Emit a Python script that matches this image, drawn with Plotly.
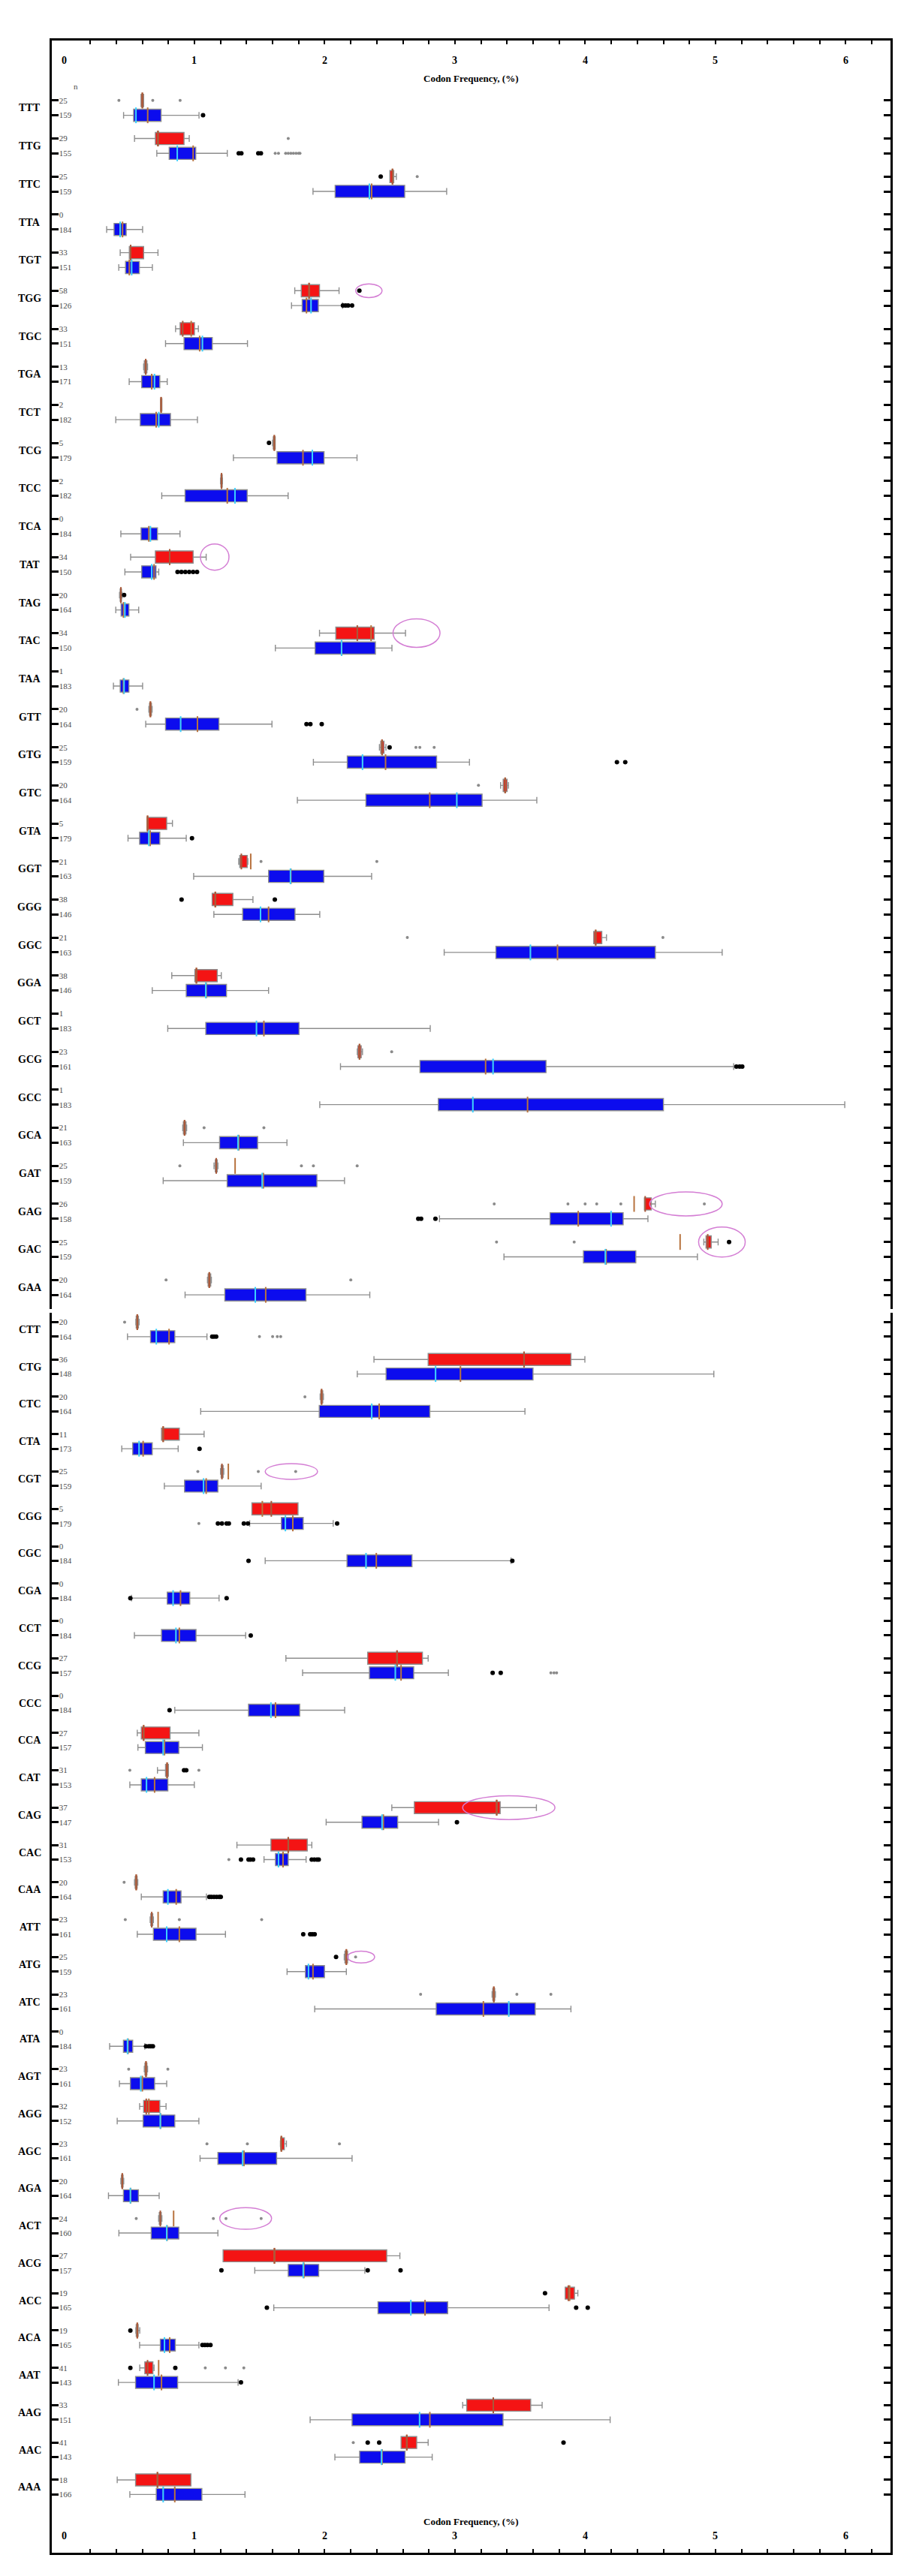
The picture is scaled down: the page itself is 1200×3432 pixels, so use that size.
import plotly.graph_objects as go

codons_top = ["TTT", "TTG", "TTC", "TTA", "TGT", "TGG", "TGC", "TGA", "TCT", "TCG", "TCC", "TCA",
              "TAT", "TAG", "TAC", "TAA", "GTT", "GTG", "GTC", "GTA", "GGT", "GGG", "GGC", "GGA",
              "GCT", "GCG", "GCC", "GCA", "GAT", "GAG", "GAC", "GAA"]
codons_bottom = ["CTT", "CTG", "CTC", "CTA", "CGT", "CGG", "CGC", "CGA", "CCT", "CCG", "CCC", "CCA",
                 "CAT", "CAG", "CAC", "CAA", "ATT", "ATG", "ATC", "ATA", "AGT", "AGG", "AGC", "AGA",
                 "ACT", "ACG", "ACC", "ACA", "AAT", "AAG", "AAC", "AAA"]

n_red_top = [25, 29, 25, 0, 33, 58, 33, 13, 2, 5, 2, 0, 34, 20, 34, 1,
             20, 25, 20, 5, 21, 38, 21, 38, 1, 23, 1, 21, 25, 26, 25, 20]
n_blue_top = [159, 155, 159, 184, 151, 126, 151, 171, 182, 179, 182, 184, 150, 164, 150, 183,
              164, 159, 164, 179, 163, 146, 163, 146, 183, 161, 183, 163, 159, 158, 159, 164]
n_red_bottom = [20, 36, 20, 11, 25, 5, 0, 0, 0, 27, 0, 27, 31, 37, 31, 20,
                23, 25, 23, 0, 23, 32, 23, 20, 24, 27, 19, 19, 41, 33, 41, 18]
n_blue_bottom = [164, 148, 164, 173, 159, 179, 184, 184, 184, 157, 184, 157, 153, 147, 153, 164,
                 161, 159, 161, 184, 161, 152, 161, 164, 160, 157, 165, 165, 143, 151, 143, 166]

x_ticks = [0, 1, 2, 3, 4, 5, 6]

# (lower whisker, q1, median, q3, upper whisker, mean)
red_stats = {
    "TTT": (0.59, 0.59, 0.60, 0.61, 0.61, 0.60),
    "TTG": (0.54, 0.70, 0.72, 0.92, 0.96, 0.72),
    "TTC": (2.50, 2.50, 2.52, 2.53, 2.55, 2.52),
    "TGT": (0.43, 0.50, 0.51, 0.61, 0.72, 0.51),
    "TGG": (1.77, 1.82, 1.88, 1.96, 2.11, 1.88),
    "TGC": (0.855, 0.89, 0.91, 1.00, 1.03, 0.975),
    "TGA": (0.61, 0.615, 0.626, 0.635, 0.64, 0.626),
    "TCT": (0.74, 0.74, 0.744, 0.75, 0.75, 0.744),
    "TCG": (1.60, 1.605, 1.613, 1.62, 1.62, 1.613),
    "TCC": (1.20, 1.203, 1.208, 1.213, 1.215, 1.208),
    "TAT": (0.51, 0.70, 0.81, 0.99, 1.09, 0.81),
    "TAG": (0.425, 0.43, 0.435, 0.44, 0.445, 0.435),
    "TAC": (1.96, 2.085, 2.25, 2.38, 2.62, 2.356),
    "GTT": (0.65, 0.655, 0.662, 0.67, 0.675, 0.662),
    "GTG": (2.42, 2.43, 2.44, 2.455, 2.47, 2.44),
    "GTC": (3.35, 3.37, 3.385, 3.40, 3.41, 3.385),
    "GTA": (0.636, 0.636, 0.64, 0.787, 0.831, 0.64),
    "GGT": (1.34, 1.348, 1.36, 1.405, 1.41, 1.432),
    "GGG": (1.136, 1.136, 1.16, 1.295, 1.449, 1.16),
    "GGC": (4.065, 4.065, 4.08, 4.127, 4.163, 4.08),
    "GGA": (0.826, 1.003, 1.015, 1.175, 1.206, 1.015),
    "GCG": (2.25, 2.255, 2.267, 2.28, 2.29, 2.267),
    "GCA": (0.91, 0.915, 0.924, 0.935, 0.94, 0.924),
    "GAT": (1.15, 1.16, 1.167, 1.175, 1.18, 1.312),
    "GAG": (4.454, 4.454, 4.46, 4.507, 4.538, 4.375),
    "GAC": (4.91, 4.927, 4.94, 4.967, 5.02, 4.728),
    "GAA": (1.10, 1.105, 1.114, 1.125, 1.13, 1.114),
    "CTT": (0.55, 0.553, 0.561, 0.57, 0.575, 0.561),
    "CTG": (2.378, 2.794, 3.53, 3.89, 3.997, 3.53),
    "CTC": (1.965, 1.97, 1.976, 1.985, 1.99, 1.976),
    "CTA": (0.747, 0.747, 0.76, 0.884, 1.074, 0.76),
    "CGT": (1.20, 1.205, 1.211, 1.22, 1.225, 1.26),
    "CGG": (1.441, 1.441, 1.59, 1.795, 1.795, 1.521),
    "CCG": (1.702, 2.33, 2.555, 2.75, 2.794, 2.555),
    "CCA": (0.561, 0.592, 0.61, 0.813, 1.034, 0.61),
    "CAT": (0.716, 0.778, 0.79, 0.80, 0.80, 0.79),
    "CAG": (2.515, 2.688, 3.32, 3.347, 3.625, 3.32),
    "CAC": (1.326, 1.587, 1.72, 1.866, 1.901, 1.72),
    "CAA": (0.54, 0.545, 0.553, 0.56, 0.565, 0.553),
    "ATT": (0.66, 0.665, 0.672, 0.68, 0.685, 0.721),
    "ATG": (2.15, 2.155, 2.166, 2.175, 2.18, 2.166),
    "ATC": (3.285, 3.29, 3.298, 3.305, 3.31, 3.298),
    "AGT": (0.615, 0.62, 0.628, 0.635, 0.64, 0.628),
    "AGG": (0.579, 0.61, 0.63, 0.734, 0.782, 0.65),
    "AGC": (1.66, 1.662, 1.667, 1.69, 1.706, 1.667),
    "AGA": (0.435, 0.44, 0.446, 0.452, 0.457, 0.446),
    "ACT": (0.725, 0.73, 0.738, 0.745, 0.75, 0.84),
    "ACG": (1.22, 1.22, 1.614, 2.476, 2.577, 1.614),
    "ACC": (3.846, 3.846, 3.87, 3.917, 3.943, 3.88),
    "ACA": (0.55, 0.553, 0.561, 0.568, 0.58, 0.561),
    "AAT": (0.58, 0.619, 0.64, 0.681, 0.69, 0.725),
    "AAG": (3.059, 3.09, 3.294, 3.581, 3.669, 3.294),
    "AAC": (2.586, 2.586, 2.63, 2.706, 2.794, 2.63),
    "AAA": (0.407, 0.548, 0.716, 0.973, 0.973, 0.716),
}

blue_stats = {
    "TTT": (0.456, 0.533, 0.551, 0.744, 1.035, 0.641),
    "TTG": (0.711, 0.806, 0.868, 1.010, 1.252, 0.99),
    "TTC": (1.91, 2.08, 2.343, 2.614, 2.936, 2.36),
    "TTA": (0.326, 0.383, 0.43, 0.476, 0.602, 0.448),
    "TGT": (0.419, 0.471, 0.518, 0.577, 0.677, 0.50),
    "TGG": (1.745, 1.827, 1.895, 1.951, 2.137, 1.86),
    "TGC": (0.778, 0.92, 1.061, 1.137, 1.407, 1.04),
    "TGA": (0.499, 0.595, 0.693, 0.734, 0.791, 0.672),
    "TCT": (0.396, 0.584, 0.726, 0.816, 1.023, 0.706),
    "TCG": (1.299, 1.634, 1.905, 1.995, 2.248, 1.833),
    "TCC": (0.749, 0.928, 1.311, 1.405, 1.719, 1.252),
    "TCA": (0.435, 0.59, 0.662, 0.716, 0.889, 0.65),
    "TAT": (0.466, 0.595, 0.672, 0.705, 0.726, 0.69),
    "TAG": (0.396, 0.437, 0.466, 0.497, 0.572, 0.455),
    "TAC": (1.621, 1.926, 2.129, 2.389, 2.516, 2.13),
    "TAA": (0.378, 0.43, 0.46, 0.497, 0.602, 0.455),
    "GTT": (0.626, 0.778, 0.894, 1.188, 1.595, 1.023),
    "GTG": (1.913, 2.173, 2.29, 2.859, 3.111, 2.467),
    "GTC": (1.79, 2.316, 3.014, 3.208, 3.628, 2.806),
    "GTA": (0.49, 0.579, 0.65, 0.734, 0.937, 0.66),
    "GGT": (0.994, 1.569, 1.737, 1.993, 2.36, 1.74),
    "GGG": (1.149, 1.37, 1.507, 1.772, 1.962, 1.569),
    "GGC": (2.917, 3.314, 3.579, 4.538, 5.051, 3.787),
    "GGA": (0.676, 0.937, 1.087, 1.246, 1.569, 1.09),
    "GCT": (0.795, 1.087, 1.476, 1.803, 2.81, 1.533),
    "GCG": (2.121, 2.731, 3.292, 3.699, 5.139, 3.235),
    "GCC": (1.962, 2.872, 3.137, 4.60, 5.992, 3.557),
    "GCA": (0.915, 1.193, 1.334, 1.485, 1.71, 1.34),
    "GAT": (0.76, 1.251, 1.52, 1.94, 2.152, 1.529),
    "GAG": (2.881, 3.73, 4.198, 4.291, 4.481, 3.946),
    "GAC": (3.376, 3.986, 4.154, 4.388, 4.861, 4.16),
    "GAA": (0.928, 1.233, 1.467, 1.856, 2.346, 1.547),
    "CTT": (0.486, 0.663, 0.707, 0.849, 1.096, 0.805),
    "CTG": (2.25, 2.471, 2.851, 3.599, 4.987, 3.042),
    "CTC": (1.048, 1.958, 2.361, 2.807, 3.537, 2.418),
    "CTA": (0.442, 0.526, 0.575, 0.676, 0.875, 0.606),
    "CGT": (0.769, 0.924, 1.07, 1.18, 1.512, 1.09),
    "CGG": (1.424, 1.667, 1.698, 1.835, 2.065, 1.755),
    "CGC": (1.543, 2.171, 2.317, 2.67, 3.43, 2.396),
    "CGA": (0.517, 0.791, 0.836, 0.964, 1.189, 0.893),
    "CCT": (0.539, 0.747, 0.858, 1.012, 1.393, 0.884),
    "CCG": (1.83, 2.343, 2.542, 2.683, 2.949, 2.586),
    "CCC": (0.849, 1.415, 1.587, 1.808, 2.153, 1.622),
    "CCA": (0.566, 0.623, 0.76, 0.88, 1.061, 0.77),
    "CAT": (0.504, 0.592, 0.632, 0.796, 0.999, 0.694),
    "CAG": (2.011, 2.286, 2.44, 2.56, 2.874, 2.45),
    "CAC": (1.534, 1.622, 1.645, 1.72, 1.857, 1.68),
    "CAA": (0.592, 0.76, 0.796, 0.897, 1.092, 0.86),
    "ATT": (0.561, 0.685, 0.787, 1.012, 1.238, 0.884),
    "ATG": (1.711, 1.852, 1.875, 1.998, 2.166, 1.91),
    "ATC": (1.923, 2.856, 3.413, 3.616, 3.89, 3.218),
    "ATA": (0.349, 0.455, 0.486, 0.526, 0.619, 0.49),
    "AGT": (0.424, 0.508, 0.588, 0.694, 0.787, 0.60),
    "AGG": (0.407, 0.606, 0.738, 0.849, 1.034, 0.74),
    "AGC": (1.043, 1.18, 1.37, 1.631, 2.21, 1.38),
    "AGA": (0.34, 0.455, 0.508, 0.57, 0.729, 0.51),
    "ACT": (0.42, 0.668, 0.787, 0.88, 1.18, 0.79),
    "ACG": (1.463, 1.72, 1.835, 1.954, 2.308, 1.84),
    "ACC": (1.609, 2.409, 2.661, 2.944, 3.722, 2.77),
    "ACA": (0.579, 0.738, 0.77, 0.853, 1.034, 0.81),
    "AAT": (0.416, 0.548, 0.69, 0.871, 1.335, 0.747),
    "AAG": (1.888, 2.21, 2.728, 3.369, 4.191, 2.807),
    "AAC": (2.078, 2.268, 2.436, 2.617, 2.825, 2.44),
    "AAA": (0.504, 0.707, 0.76, 1.057, 1.388, 0.849),
}

# (codon, group r/b, kind k=black g=grey, values)
outliers = [
    ("TTT", "r", "g", [0.42, 0.68, 0.89]), ("TTT", "b", "k", [1.066]),
    ("TTG", "r", "g", [1.72]), ("TTG", "b", "k", [1.34, 1.36, 1.49, 1.51]),
    ("TTG", "b", "g", [1.62, 1.645, 1.70, 1.72, 1.74, 1.76, 1.78, 1.80, 1.81]),
    ("TTC", "r", "k", [2.43]), ("TTC", "r", "g", [2.71]),
    ("TGG", "r", "k", [2.266]), ("TGG", "b", "k", [2.14, 2.16, 2.18, 2.21]),
    ("TCG", "r", "k", [1.572]),
    ("TAT", "b", "k", [0.87, 0.90, 0.93, 0.96, 0.99, 1.02]),
    ("TAG", "r", "k", [0.46]),
    ("GTT", "r", "g", [0.559]), ("GTT", "b", "k", [1.86, 1.89, 1.977]),
    ("GTG", "r", "k", [2.498]), ("GTG", "r", "g", [2.70, 2.73, 2.84]), ("GTG", "b", "k", [4.243, 4.307]),
    ("GTC", "r", "g", [3.18]),
    ("GTA", "b", "k", [0.981]),
    ("GGT", "r", "g", [1.511, 2.40]),
    ("GGG", "r", "k", [0.901, 1.617]),
    ("GGC", "r", "g", [2.634, 4.596]),
    ("GCG", "r", "g", [2.514]), ("GCG", "b", "k", [5.16, 5.185, 5.205]),
    ("GCA", "r", "g", [1.074, 1.533]),
    ("GAT", "r", "g", [0.888, 1.821, 1.913, 2.249]),
    ("GAG", "r", "g", [3.301, 3.867, 3.999, 4.088, 4.273, 4.914]), ("GAG", "b", "k", [2.718, 2.74, 2.85]),
    ("GAC", "r", "g", [3.319, 3.915]), ("GAC", "r", "k", [5.104]),
    ("GAA", "r", "g", [0.782, 2.2]),
    ("CTT", "r", "g", [0.464]), ("CTT", "b", "k", [1.136, 1.15, 1.167]),
    ("CTT", "b", "g", [1.499, 1.60, 1.636, 1.662]),
    ("CTC", "r", "g", [1.848]),
    ("CTA", "b", "k", [1.039]),
    ("CGT", "r", "g", [1.026, 1.49, 1.777]),
    ("CGG", "b", "g", [1.034]), ("CGG", "b", "k", [1.18, 1.211, 1.247, 1.264, 1.379, 1.41, 2.095]),
    ("CGC", "b", "k", [1.415, 3.44]),
    ("CGA", "b", "k", [0.508, 1.247]),
    ("CCT", "b", "k", [1.432]),
    ("CCG", "b", "k", [3.289, 3.351]), ("CCG", "b", "g", [3.736, 3.76, 3.78]),
    ("CCC", "b", "k", [0.809]),
    ("CAT", "r", "g", [0.504, 1.034]), ("CAT", "r", "k", [0.92, 0.937]),
    ("CAG", "b", "k", [3.015]),
    ("CAC", "b", "g", [1.264]), ("CAC", "b", "k", [1.357, 1.415, 1.43, 1.45, 1.90, 1.92, 1.94, 1.954]),
    ("CAA", "r", "g", [0.46]), ("CAA", "b", "k", [1.114, 1.13, 1.15, 1.17, 1.19, 1.202]),
    ("ATT", "r", "g", [0.469, 0.884, 1.516]), ("ATT", "b", "k", [1.835, 1.888, 1.905, 1.923]),
    ("ATG", "r", "k", [2.087]), ("ATG", "r", "g", [2.237]),
    ("ATC", "r", "g", [2.736, 3.475, 3.736]),
    ("ATA", "b", "k", [0.628, 0.65, 0.665, 0.681]),
    ("AGT", "r", "g", [0.495, 0.796]),
    ("AGC", "r", "g", [1.096, 1.406, 2.113]),
    ("ACT", "r", "g", [0.553, 1.145, 1.242, 1.512]),
    ("ACG", "b", "k", [1.207, 2.33, 2.582]),
    ("ACC", "r", "k", [3.691]), ("ACC", "b", "k", [1.556, 3.93, 4.019]),
    ("ACA", "r", "k", [0.508]), ("ACA", "b", "k", [1.061, 1.08, 1.10, 1.123]),
    ("AAT", "r", "k", [0.508, 0.853]), ("AAT", "r", "g", [1.083, 1.238, 1.379]), ("AAT", "b", "k", [1.357]),
    ("AAC", "r", "g", [2.219]), ("AAC", "r", "k", [2.33, 2.418, 3.833]),
]

# circled points: codon (red row), x from, x to, ellipse height in rows
circled = [
    ("TGG", 2.238, 2.44, 0.36), ("TAT", 1.046, 1.265, 0.69), ("TAC", 2.524, 2.885, 0.75),
    ("GAG", 4.494, 5.051, 0.63), ("GAC", 4.87, 5.228, 0.79), ("CGT", 1.543, 1.945, 0.42),
    ("CAG", 3.059, 3.767, 0.64), ("ATG", 2.175, 2.383, 0.32), ("ACT", 1.194, 1.592, 0.58),
]

RED_OFF, BLUE_OFF = -0.2, 0.19
FONT = "Liberation Serif"
RED, BLUE = "#f41414", "#0c0cee"
WHISK = "#8e8e8e"


def locate(codon, grp):
    off = RED_OFF if grp == "r" else BLUE_OFF
    if codon in codons_top:
        return "y", codons_top.index(codon) + off
    return "y2", codons_bottom.index(codon) + off


fig = go.Figure()

for grp, stats, fill, med_col in [("r", red_stats, RED, "#a8583a"), ("b", blue_stats, BLUE, "#3ad0ff")]:
    for ax in ["y", "y2"]:
        pos, s = [], []
        for cod, st in stats.items():
            a, p = locate(cod, grp)
            if a == ax:
                pos.append(p)
                s.append(st)
        xa = "x" if ax == "y" else "x2"
        fig.add_trace(go.Box(
            orientation="h", y=pos,
            lowerfence=[v[0] for v in s], q1=[v[1] for v in s], median=[v[2] for v in s],
            q3=[v[3] for v in s], upperfence=[v[4] for v in s],
            fillcolor=fill, line=dict(color=WHISK, width=1.4), width=0.32, whiskerwidth=0.55,
            boxpoints=False, xaxis=xa, yaxis=ax, showlegend=False, hoverinfo="skip"))
        # mean lines (brown) and median lines
        fig.add_trace(go.Scatter(
            x=[v[5] for v in s], y=pos, mode="markers", xaxis=xa, yaxis=ax, showlegend=False,
            marker=dict(symbol="line-ns", size=15, line=dict(color="#b8733f", width=2))))
        fig.add_trace(go.Scatter(
            x=[v[2] for v in s], y=pos, mode="markers", xaxis=xa, yaxis=ax, showlegend=False,
            marker=dict(symbol="line-ns", size=15, line=dict(color=med_col, width=2))))

for kind, col, size in [("g", "#8a8a8a", 4), ("k", "#000000", 6)]:
    for ax in ["y", "y2"]:
        xs, ys = [], []
        for cod, grp, k, vals in outliers:
            a, p = locate(cod, grp)
            if k == kind and a == ax:
                xs += vals
                ys += [p] * len(vals)
        fig.add_trace(go.Scatter(
            x=xs, y=ys, mode="markers", xaxis="x" if ax == "y" else "x2", yaxis=ax,
            showlegend=False, marker=dict(color=col, size=size)))

for cod, x0, x1, h in circled:
    a, p = locate(cod, "r")
    fig.add_shape(type="circle", xref="x" if a == "y" else "x2", yref=a,
                  x0=x0, x1=x1, y0=p - h / 2, y1=p + h / 2,
                  line=dict(color="#d47ed4", width=1.5))

# codon names outside the left axis
for ax, cods in [("y", codons_top), ("y2", codons_bottom)]:
    for i, cod in enumerate(cods):
        fig.add_annotation(x=-0.026, xref="paper", y=i, yref=ax, text=cod, showarrow=False,
                           xanchor="center", font=dict(family=FONT, size=14, color="black", weight="bold"))


def y_ticks(cods, n_red, n_blue):
    vals, text = [], []
    for i in range(len(cods)):
        vals += [i + RED_OFF, i + BLUE_OFF]
        text += [str(n_red[i]), str(n_blue[i])]
    return vals, text


tv_top, tt_top = y_ticks(codons_top, n_red_top, n_blue_top)
tv_bot, tt_bot = y_ticks(codons_bottom, n_red_bottom, n_blue_bottom)

xcommon = dict(range=[-0.095, 6.343], tickvals=x_ticks, ticks="inside", ticklen=5, tickwidth=2,
               tickcolor="black", showticklabels=False, showline=True, linewidth=2.5,
               linecolor="black", showgrid=False, zeroline=False,
               minor=dict(dtick=0.2, ticks="inside", ticklen=5, tickwidth=1.5, tickcolor="black"))
ycommon = dict(ticks="inside", ticklen=9, tickwidth=2.5, tickcolor="black", ticklabelposition="inside",
               showline=True, linewidth=3, linecolor="black", mirror="ticks", showgrid=False,
               zeroline=False, tickfont=dict(family=FONT, size=11, color="#4a4a4a"))

fig.update_layout(
    width=1200, height=3432, plot_bgcolor="white", paper_bgcolor="white",
    margin=dict(l=61, r=22, t=46, b=39),
    xaxis=dict(xcommon, side="top", anchor="y"),
    xaxis2=dict(xcommon, side="bottom", anchor="y2", matches="x"),
    yaxis=dict(ycommon, domain=[0.4951, 1], range=[31.56, -1.775], tickvals=tv_top, ticktext=tt_top),
    yaxis2=dict(ycommon, domain=[0, 0.4936], range=[32.75, -0.452], tickvals=tv_bot, ticktext=tt_bot),
)

# x tick numbers sit inside the frame, above / below the title
for xref, ypos in [("x", 0.9949), ("x2", 0.0039)]:
    for t in x_ticks:
        fig.add_annotation(x=t, xref=xref, y=ypos, yref="paper", text=str(t), showarrow=False,
                           font=dict(family=FONT, size=14, color="black", weight="bold"))

fig.add_annotation(x=0.5, xref="paper", y=0.9877, yref="paper", text="Codon Frequency, (%)",
                   showarrow=False, font=dict(family=FONT, size=13, color="black", weight="bold"))
fig.add_annotation(x=0.5, xref="paper", y=0.0096, yref="paper", text="Codon Frequency, (%)",
                   showarrow=False, font=dict(family=FONT, size=13, color="black", weight="bold"))
fig.add_annotation(x=0.024, xref="paper", y=-0.57, yref="y", text="n", showarrow=False,
                   font=dict(family=FONT, size=11, color="#4a4a4a"))

fig.write_html("out.html")
